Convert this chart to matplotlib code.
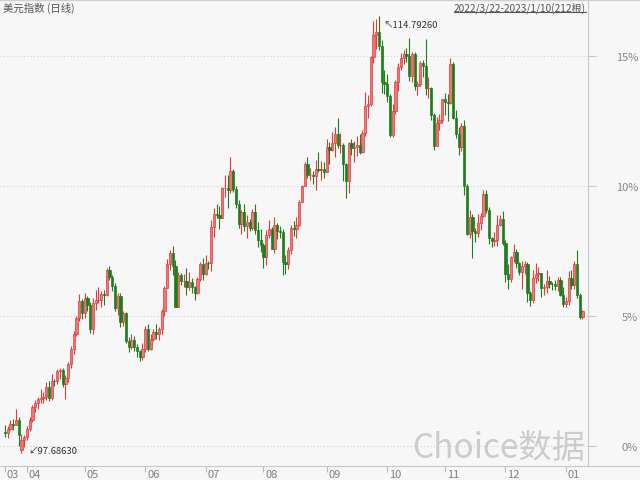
import matplotlib
matplotlib.use('Agg')
import matplotlib.pyplot as plt
import numpy as np
import pandas as pd
from matplotlib.lines import Line2D

plt.rcParams['font.family'] = ['Noto Sans CJK SC', 'DejaVu Sans']

# US dollar index, daily candles 2022/3/22 - 2023/1/10
opens = [
    98.50, 98.48, 98.64, 98.81, 98.80, 98.98, 97.82, 98.20,
    98.31, 98.61, 99.00, 99.49, 99.63, 99.80, 99.84, 99.90, 100.28, 99.85, 100.50,
    100.49, 100.91, 100.95, 100.39, 100.64, 101.16, 101.77, 102.35, 102.97, 103.63,
    103.18, 103.74, 103.47, 102.56, 103.55, 103.66, 103.68, 103.93, 103.87, 104.85, 104.56,
    104.21, 103.37, 103.84, 102.83, 103.15, 102.08, 101.85, 102.13, 101.83, 101.67, 101.45,
    101.76, 102.55, 101.77, 102.16, 102.44, 102.33, 102.56, 103.24, 104.15, 105.08, 105.51,
    105.00, 103.42, 104.64, 104.43, 104.44, 104.18, 104.39, 104.20, 103.94, 104.49, 105.08,
    104.69, 105.14, 105.11, 106.52, 107.05, 107.01, 106.90, 108.05, 108.07, 107.99, 108.73,
    108.04, 107.45, 106.67, 107.12, 106.59, 106.73, 106.49, 107.14, 106.43, 106.03,
    105.85, 105.36, 106.23, 106.47, 105.67, 106.60, 106.37, 106.35, 105.15, 105.08, 105.65,
    106.50, 106.47, 106.63, 107.51, 108.15, 108.99, 108.57, 108.59, 108.53, 108.82, 108.78, 108.80,
    108.70, 109.66, 109.53, 109.82, 110.18, 109.73, 109.74, 109.02, 108.33, 109.82, 109.64,
    109.67, 109.76, 109.47, 110.21, 111.27, 111.35, 113.19, 114.07, 114.18, 113.63, 112.20,
    112.12, 111.66, 110.15, 111.09, 112.20, 112.79, 113.16, 113.29, 113.24, 112.45, 113.31,
    112.05, 112.13, 112.95, 112.83, 111.98, 111.99, 110.92, 109.71, 110.59, 110.74,
    111.53, 111.43, 111.40, 112.90, 110.82, 110.19, 109.66, 110.47, 108.13, 106.27, 106.94,
    106.37, 106.29, 106.68, 106.98, 107.84, 107.19, 106.10, 106.00, 106.04, 106.63, 106.84,
    105.92, 104.71, 104.51, 105.35, 105.57, 105.14, 104.78, 104.99, 105.09, 103.97, 103.68,
    104.55, 104.70, 104.72, 104.16, 104.17, 104.41, 104.32, 104.30, 104.23, 104.48, 103.87,
    103.52, 103.62, 104.52, 104.25, 105.07, 103.89, 103.00,
]
highs = [
    98.80, 98.74, 98.98, 99.03, 99.42, 99.10, 98.45, 98.40,
    98.76, 99.10, 99.57, 99.76, 99.88, 100.19, 100.07, 100.46, 100.52, 100.77, 100.58,
    100.96, 101.03, 101.02, 100.74, 101.26, 101.86, 102.47, 103.06, 103.93, 103.70,
    103.94, 103.84, 103.61, 103.75, 104.07, 104.19, 104.04, 104.06, 104.93, 105.01, 104.64,
    104.33, 103.95, 103.97, 103.24, 103.21, 102.24, 102.35, 102.25, 101.94, 101.72, 102.01,
    102.66, 102.75, 102.35, 102.55, 102.74, 102.64, 103.33, 104.24, 105.29, 105.65, 105.79,
    105.25, 104.79, 104.74, 104.69, 104.94, 104.78, 104.54, 104.22, 104.57, 105.15, 105.31,
    105.43, 105.22, 106.79, 107.27, 107.42, 107.34, 108.12, 108.56, 108.59, 109.29, 108.79,
    108.15, 107.59, 107.22, 107.43, 107.00, 106.83, 107.23, 107.43, 106.73, 106.47,
    105.91, 106.41, 106.81, 106.54, 106.93, 106.71, 106.56, 106.47, 105.43, 105.75, 106.61,
    106.76, 106.94, 107.60, 108.17, 109.09, 109.27, 108.83, 108.72, 109.14, 109.48, 109.12, 109.08,
    109.99, 109.88, 110.27, 110.46, 110.79, 110.23, 109.84, 109.04, 109.87, 109.97, 109.89,
    110.08, 110.18, 110.35, 111.81, 111.72, 113.24, 114.58, 114.69, 114.7926, 113.86, 112.68,
    112.53, 111.76, 111.34, 112.28, 112.94, 113.36, 113.47, 113.55, 113.92, 113.40, 113.37,
    112.25, 113.05, 113.06, 113.88, 112.40, 112.03, 111.01, 110.85, 110.94, 111.56,
    111.79, 111.75, 113.15, 113.01, 111.10, 110.44, 110.59, 110.71, 108.23, 107.21, 107.03,
    106.50, 107.05, 107.08, 107.99, 107.98, 107.33, 106.14, 106.35, 106.99, 107.01, 107.16,
    106.03, 105.10, 105.40, 105.87, 105.67, 105.15, 105.19, 105.21, 105.16, 104.04, 104.86,
    105.12, 104.95, 104.73, 104.30, 104.86, 104.61, 104.37, 104.48, 104.59, 104.56, 104.17,
    103.79, 104.82, 104.86, 105.19, 105.63, 103.95, 103.27,
]
lows = [
    98.31, 98.29, 98.58, 98.60, 98.78, 97.98, 97.6863, 97.92,
    98.20, 98.55, 98.92, 99.30, 99.41, 99.65, 99.66, 99.78, 99.71, 99.75, 100.32,
    100.38, 100.58, 100.26, 99.82, 100.48, 101.02, 101.58, 102.25, 102.85, 102.95,
    102.98, 103.26, 102.37, 102.35, 103.30, 103.55, 103.42, 103.48, 103.83, 104.47, 104.04,
    103.23, 103.09, 102.64, 102.67, 102.01, 101.64, 101.76, 101.69, 101.43, 101.30, 101.31,
    101.64, 101.69, 101.72, 102.07, 102.17, 102.13, 102.33, 103.06, 104.13, 104.86, 104.66,
    103.41, 103.39, 104.25, 104.17, 103.86, 104.07, 103.94, 103.67, 103.90, 104.43, 104.46,
    104.64, 104.90, 104.83, 106.16, 106.88, 106.45, 106.87, 107.72, 107.26, 107.87, 107.91,
    107.28, 106.51, 106.28, 106.37, 106.09, 106.38, 106.42, 106.25, 105.74, 105.55,
    104.93, 105.04, 106.09, 105.66, 105.52, 106.06, 106.11, 104.64, 104.69, 104.88, 105.46,
    106.18, 106.09, 106.59, 107.50, 108.13, 108.46, 108.38, 108.22, 107.98, 108.69, 108.39, 108.45,
    108.68, 109.01, 109.52, 109.28, 109.63, 109.42, 108.35, 107.68, 107.87, 109.34, 109.07,
    109.31, 109.40, 109.43, 110.10, 110.79, 111.28, 112.94, 113.52, 113.46, 111.78, 111.75,
    111.44, 110.06, 110.05, 110.95, 111.85, 112.69, 112.93, 112.99, 112.25, 112.22, 111.90,
    111.71, 112.07, 112.40, 111.69, 111.57, 110.71, 109.54, 109.69, 110.35, 110.60,
    110.91, 110.69, 111.34, 110.75, 110.02, 109.37, 109.50, 107.80, 106.24, 106.11, 105.34,
    105.95, 106.16, 106.41, 106.91, 107.08, 105.88, 105.77, 105.79, 105.80, 106.59, 105.82,
    104.39, 104.12, 104.38, 105.18, 104.92, 104.64, 104.12, 104.68, 103.58, 103.44, 103.55,
    104.36, 104.43, 103.80, 103.89, 103.97, 104.16, 104.07, 104.06, 104.03, 103.83, 103.39,
    103.42, 103.47, 104.10, 104.12, 103.77, 102.94, 102.93,
]
closes = [
    98.48, 98.64, 98.81, 98.80, 98.98, 98.41, 98.20, 98.31,
    98.61, 99.00, 99.49, 99.63, 99.80, 99.84, 99.90, 100.28, 99.85, 100.50, 100.49,
    100.91, 100.95, 100.39, 100.64, 101.16, 101.77, 102.35, 102.97, 103.63, 103.18,
    103.74, 103.47, 102.56, 103.55, 103.66, 103.68, 103.93, 103.87, 104.85, 104.56, 104.21,
    103.37, 103.84, 102.83, 103.15, 102.08, 101.85, 102.13, 101.83, 101.67, 101.45, 101.76,
    102.55, 101.77, 102.16, 102.44, 102.33, 102.56, 103.24, 104.15, 105.08, 105.51, 105.00,
    103.42, 104.64, 104.43, 104.44, 104.18, 104.39, 104.20, 103.94, 104.49, 105.08, 104.69,
    105.14, 105.11, 106.52, 107.05, 107.01, 106.90, 108.05, 108.07, 107.99, 108.73, 108.04,
    107.45, 106.67, 107.12, 106.59, 106.73, 106.49, 107.14, 106.43, 106.03, 105.85,
    105.36, 106.23, 106.47, 105.67, 106.60, 106.37, 106.35, 105.15, 105.08, 105.65, 106.50,
    106.47, 106.63, 107.51, 108.15, 108.99, 108.57, 108.59, 108.53, 108.82, 108.78, 108.80, 108.70,
    109.66, 109.53, 109.82, 110.18, 109.73, 109.74, 109.02, 108.33, 109.82, 109.64, 109.67,
    109.76, 109.47, 110.21, 111.27, 111.35, 113.19, 114.07, 114.18, 113.63, 112.20, 112.12,
    111.66, 110.15, 111.09, 112.20, 112.79, 113.16, 113.29, 113.24, 112.45, 113.31, 112.05,
    112.13, 112.95, 112.83, 111.98, 111.99, 110.92, 109.71, 110.59, 110.74, 111.53,
    111.43, 111.40, 112.90, 110.82, 110.19, 109.66, 110.47, 108.13, 106.27, 106.94, 106.37,
    106.29, 106.68, 106.98, 107.84, 107.19, 106.10, 106.00, 106.04, 106.63, 106.84, 105.92,
    104.71, 104.51, 105.35, 105.57, 105.14, 104.78, 104.99, 105.09, 103.97, 103.68, 104.55,
    104.70, 104.72, 104.16, 104.17, 104.41, 104.32, 104.30, 104.23, 104.48, 103.87, 103.52,
    103.62, 104.52, 104.25, 105.07, 103.89, 103.00, 103.23,
]

title = '美元指数 (日线)'
range_label = '2022/3/22-2023/1/10(212根)'
pct_ticks = [0, 5, 10, 15]
# right axis: price level of 0% and index points per 1%, as drawn by the source
pct_base = 97.98
pct_unit = 1.016

o = np.array(opens)
h = np.array(highs)
l = np.array(lows)
c = np.array(closes)
dates = pd.bdate_range('2022-03-22', '2023-01-10')
x = np.arange(len(c))
up = c >= o

bg = '#f7f7f7'
red_edge = '#e23b3b'
red_fill = '#f07575'
green = '#1f7d1f'

fig = plt.figure(figsize=(6.4, 4.81), dpi=100, facecolor=bg)
ax = fig.add_axes([0, 14 / 481, 588 / 640, 467 / 481])
ax.set_facecolor(bg)

# wicks then bodies
ax.vlines(x[up], l[up], h[up], color=red_edge, lw=0.8, zorder=2)
ax.vlines(x[~up], l[~up], h[~up], color=green, lw=0.8, zorder=2)
ax.bar(x[up], c[up] - o[up], bottom=o[up], width=0.8, color=red_fill,
       edgecolor=red_edge, linewidth=0.5, zorder=3)
ax.bar(x[~up], c[~up] - o[~up], bottom=o[~up], width=0.8, color=green,
       edgecolor=green, linewidth=0.5, zorder=3)

ax.set_xlim(-1.8, 212.0)
ax.set_ylim(97.18, 115.46)

# dotted grid at the percentage levels
pct_prices = [pct_base + p * pct_unit for p in pct_ticks]
for yv in pct_prices:
    ax.axhline(yv, color='#d2d2d2', lw=0.8, ls=(0, (1, 2)), zorder=1)

for s in ['left', 'top']:
    ax.spines[s].set_visible(False)
for s in ['right', 'bottom']:
    ax.spines[s].set_color('#c8c8c8')
    ax.spines[s].set_linewidth(0.8)

# right percentage axis
ax.yaxis.set_ticks_position('right')
ax.set_yticks(pct_prices)
ax.set_yticklabels([f'{p}%' for p in pct_ticks])
ax.tick_params(axis='y', length=6, width=0.8, color='#c8c8c8', pad=30,
               labelsize=8, labelcolor='#888888')
for lab in ax.get_yticklabels():
    lab.set_horizontalalignment('right')

# month ticks, labels to the right of each tick
month_idx = [i for i in range(len(dates)) if i == 0 or dates[i].month != dates[i - 1].month]
ax.set_xticks(month_idx)
ax.tick_params(axis='x', length=4, width=0.8, color='#bbbbbb', labelbottom=False)
for i in month_idx:
    ax.annotate(dates[i].strftime('%m'), xy=(i, 0), xycoords=ax.get_xaxis_transform(),
                xytext=(2, -3), textcoords='offset pixels', ha='left', va='top',
                fontsize=8, color='#808080')

# high / low markers
hi = int(np.argmax(h))
lo = int(np.argmin(l))
ax.annotate('↖' + f'{h[hi]:.5f}', xy=(hi, h[hi]), xytext=(4, -8),
            textcoords='offset pixels', ha='left', va='center', fontsize=6.8, color='#333333')
ax.annotate('↙' + f'{l[lo]:.5f}', xy=(lo, l[lo]), xytext=(7, 3),
            textcoords='offset pixels', ha='left', va='center', fontsize=6.8, color='#333333')

# frame lines outside the axes
fig.add_artist(Line2D([588 / 640, 1], [14 / 481, 14 / 481], transform=fig.transFigure,
                      color='#c8c8c8', lw=0.8))
fig.add_artist(Line2D([0, 1], [1 - 0.5 / 481, 1 - 0.5 / 481], transform=fig.transFigure,
                      color='#d0d0d0', lw=1.0))

fig.text(3 / 640, 1 - 8 / 481, title, ha='left', va='center', fontsize=7.5, color='#555555')
t = fig.text(586 / 640, 1 - 8 / 481, range_label, ha='right', va='center',
             fontsize=7.3, color='#555555')

fig.text(585 / 640, 1 - 449 / 481, 'Choice数据', ha='right', va='center',
         fontsize=24, color='#cccccc')

# underline the date range
fig.canvas.draw()
bb = t.get_window_extent().transformed(fig.transFigure.inverted())
fig.add_artist(Line2D([bb.x0, bb.x1], [bb.y0 + 0.5 / 481] * 2, transform=fig.transFigure,
                      color='#555555', lw=0.8))

fig.savefig('out.png', dpi=100, facecolor=bg)
